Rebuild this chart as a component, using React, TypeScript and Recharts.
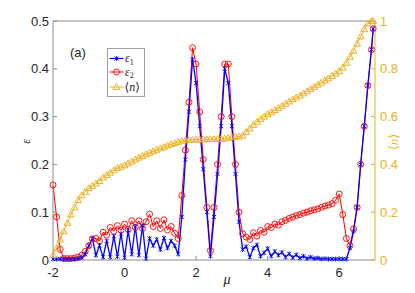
import { Line, LineChart, XAxis, YAxis } from "recharts";

const mu = [
  -2.0, -1.9, -1.8, -1.7, -1.6, -1.5, -1.4, -1.3, -1.2, -1.1,
  -1.0, -0.9, -0.8, -0.7, -0.6, -0.5, -0.4, -0.3, -0.2, -0.1,
  0.0, 0.1, 0.2, 0.3, 0.4, 0.5, 0.6, 0.7, 0.8, 0.9,
  1.0, 1.1, 1.2, 1.3, 1.4, 1.5, 1.6, 1.7, 1.8, 1.9,
  2.0, 2.1, 2.2, 2.3, 2.4, 2.5, 2.6, 2.7, 2.8, 2.9,
  3.0, 3.1, 3.2, 3.3, 3.4, 3.5, 3.6, 3.7, 3.8, 3.9,
  4.0, 4.1, 4.2, 4.3, 4.4, 4.5, 4.6, 4.7, 4.8, 4.9,
  5.0, 5.1, 5.2, 5.3, 5.4, 5.5, 5.6, 5.7, 5.8, 5.9,
  6.0, 6.1, 6.2, 6.3, 6.4, 6.5, 6.6, 6.7, 6.8, 6.9, 6.95,
];

// epsilon_1 (blue)
const eps1 = [
  0.002, 0.002, 0.002, 0.002, 0.002, 0.002, 0.002, 0.003, 0.005, 0.012,
  0.03, 0.045, 0.01, 0.03, 0.006, 0.04, 0.006, 0.05, 0.007, 0.055,
  0.005, 0.062, 0.012, 0.07, 0.01, 0.072, 0.003, 0.045, 0.03, 0.043,
  0.022, 0.046, 0.025, 0.04, 0.03, 0.012, 0.09, 0.21, 0.31, 0.42,
  0.37, 0.28, 0.19, 0.1, 0.008, 0.09, 0.18, 0.28, 0.4, 0.37,
  0.28, 0.18, 0.08, 0.022, 0.028, 0.006, 0.025, 0.032, 0.008, 0.015,
  0.024, 0.008, 0.018, 0.01, 0.016, 0.006, 0.013, 0.005, 0.011, 0.004,
  0.008, 0.003, 0.006, 0.003, 0.004, 0.002, 0.003, 0.002, 0.002, 0.002,
  0.002, 0.002, 0.002, 0.025, 0.06, 0.11, 0.2, 0.28, 0.365, 0.44, 0.484,
];

// epsilon_2 (red)
const eps2 = [
  0.157, 0.09, 0.022, 0.003, 0.003, 0.003, 0.004, 0.006, 0.01, 0.018,
  0.03, 0.044, 0.045, 0.04, 0.058, 0.052, 0.068, 0.06, 0.072, 0.062,
  0.075, 0.064, 0.082, 0.068, 0.082, 0.066, 0.08, 0.096, 0.07, 0.082,
  0.066, 0.084, 0.063, 0.07, 0.056, 0.045, 0.135, 0.23, 0.33, 0.444,
  0.41, 0.31, 0.21, 0.11, 0.02, 0.11, 0.2, 0.3, 0.41, 0.41,
  0.3, 0.2, 0.1, 0.055, 0.048, 0.043, 0.057, 0.05, 0.062, 0.058,
  0.07, 0.068, 0.075, 0.073, 0.08, 0.083, 0.087, 0.09, 0.093, 0.095,
  0.098, 0.1, 0.103, 0.105, 0.107, 0.11, 0.113, 0.115, 0.118, 0.125,
  0.138, 0.095, 0.045, 0.03, 0.065, 0.11, 0.2, 0.28, 0.365, 0.44, 0.484,
];

// <n> (right axis)
const density = [
  0.02, 0.05, 0.085, 0.12, 0.155, 0.19, 0.22, 0.25, 0.27, 0.285,
  0.3, 0.31, 0.32, 0.33, 0.345, 0.355, 0.365, 0.375, 0.385, 0.39,
  0.396, 0.404, 0.412, 0.42, 0.428, 0.435, 0.442, 0.449, 0.455, 0.461,
  0.467, 0.473, 0.479, 0.484, 0.489, 0.494, 0.499, 0.501, 0.502, 0.503,
  0.504, 0.504, 0.505, 0.505, 0.506, 0.506, 0.507, 0.507, 0.508, 0.511,
  0.514, 0.515, 0.517, 0.52, 0.535, 0.55, 0.565, 0.578, 0.59, 0.6,
  0.61, 0.618, 0.627, 0.636, 0.645, 0.654, 0.663, 0.672, 0.68, 0.688,
  0.697, 0.706, 0.715, 0.724, 0.733, 0.742, 0.751, 0.76, 0.77, 0.78,
  0.79, 0.805, 0.825, 0.85, 0.875, 0.905, 0.935, 0.965, 0.99, 1.0, 1.0,
];

const xTicks = [-2, 0, 2, 4, 6];
const leftTicks = [0, 0.1, 0.2, 0.3, 0.4, 0.5];
const rightTicks = [0, 0.2, 0.4, 0.6, 0.8, 1];

const BLUE = "#0000ff";
const RED = "#ff0000";
const GOLD = "#edb120";
const AXIS_GRAY = "#8c8c8c";
const SANS = "'Liberation Sans', Arial, sans-serif";
const SERIF = "'Liberation Serif', 'DejaVu Serif', serif";

const data = mu.map((m, i) => ({ mu: m, e1: eps1[i], e2: eps2[i], n: density[i] }));

const tickText = { fill: "#262626", fontSize: 13, fontFamily: SANS };

function starPath(cx: number, cy: number, s: number) {
  return `M${cx - s},${cy - s}L${cx + s},${cy + s}M${cx - s},${cy + s}L${cx + s},${cy - s}M${cx},${cy - s * 1.2}L${cx},${cy + s * 1.2}`;
}

function triPath(cx: number, cy: number) {
  return `M${cx},${cy - 3.4}L${cx + 3.4},${cy + 2.4}L${cx - 3.4},${cy + 2.4}Z`;
}

const StarDot = (p: any) =>
  p.cx == null ? <g key={p.index} /> : (
    <path key={p.index} d={starPath(p.cx, p.cy, 2)} stroke={BLUE} strokeWidth={0.9} fill="none" />
  );

const CircleDot = (p: any) =>
  p.cx == null ? <g key={p.index} /> : (
    <circle key={p.index} cx={p.cx} cy={p.cy} r={3} stroke={RED} strokeWidth={0.9} fill="none" />
  );

const TriDot = (p: any) =>
  p.cx == null ? <g key={p.index} /> : (
    <path key={p.index} d={triPath(p.cx, p.cy)} stroke={GOLD} strokeWidth={1} fill="none" />
  );

function Overlay() {
  return (
    <svg
      width={415}
      height={293}
      style={{ position: "absolute", left: 0, top: 0, pointerEvents: "none" }}
    >
      <text x={70} y={57} fontFamily={SANS} fontSize={13} fill="#262626">(a)</text>

      <rect x={107.5} y={48.5} width={37} height={48} fill="#fff" stroke="#a0a0a0" strokeWidth={1} />
      <line x1={109.5} x2={123.5} y1={58.5} y2={58.5} stroke={BLUE} strokeWidth={1.2} />
      <path d={starPath(116.5, 58.5, 2)} stroke={BLUE} strokeWidth={0.9} fill="none" />
      <text x={125} y={62} fontFamily={SERIF} fontStyle="italic" fontSize={12} fill="#262626">
        ε<tspan fontStyle="normal" fontSize={8} dy={2.5}>1</tspan>
      </text>
      <line x1={109.5} x2={123.5} y1={72} y2={72} stroke={RED} strokeWidth={1} />
      <circle cx={116.5} cy={72} r={3} stroke={RED} strokeWidth={0.9} fill="none" />
      <text x={125} y={75.5} fontFamily={SERIF} fontStyle="italic" fontSize={12} fill="#262626">
        ε<tspan fontStyle="normal" fontSize={8} dy={2.5}>2</tspan>
      </text>
      <line x1={109.5} x2={123.5} y1={87} y2={87} stroke={GOLD} strokeWidth={1} />
      <path d={triPath(116.5, 87)} stroke={GOLD} strokeWidth={1} fill="none" />
      <text x={124.5} y={91} fontFamily={SERIF} fontSize={12} fill="#262626">
        ⟨<tspan fontStyle="italic">n</tspan>⟩
      </text>

      <text
        transform="translate(26,141.5) rotate(-90)"
        textAnchor="middle"
        dominantBaseline="central"
        fontFamily={SERIF}
        fontStyle="italic"
        fontSize={12}
        fill="#262626"
      >
        ε
      </text>
      <text x={227} y={284} textAnchor="middle" fontFamily={SERIF} fontStyle="italic" fontSize={14} fill="#262626">
        μ
      </text>
      <text
        transform="translate(393,142) rotate(-90)"
        textAnchor="middle"
        dominantBaseline="central"
        fontFamily={SERIF}
        fontSize={13}
        fill={GOLD}
      >
        ⟨<tspan fontStyle="italic">n</tspan>⟩
      </text>
    </svg>
  );
}

export default function App() {
  return (
    <div style={{ position: "absolute", left: 0, top: 0, width: 415, height: 293, background: "#fff" }}>
      <LineChart width={415} height={293} data={data} margin={{ top: 20, right: 10, bottom: 8, left: 13 }}>
        <XAxis
          dataKey="mu"
          type="number"
          domain={[-2, 7]}
          ticks={xTicks}
          stroke={AXIS_GRAY}
          tickSize={-4}
          tickMargin={12}
          tick={tickText}
          height={25}
        />
        <XAxis
          xAxisId="top"
          orientation="top"
          dataKey="mu"
          type="number"
          domain={[-2, 7]}
          ticks={xTicks}
          stroke={AXIS_GRAY}
          tickSize={-4}
          tick={false}
          height={1}
        />
        <YAxis
          yAxisId="left"
          domain={[0, 0.5]}
          ticks={leftTicks}
          stroke={AXIS_GRAY}
          tickSize={-4}
          tickMargin={8}
          tick={tickText}
          width={40}
        />
        <YAxis
          yAxisId="right"
          orientation="right"
          domain={[0, 1]}
          ticks={rightTicks}
          stroke={GOLD}
          tickSize={-4}
          tickMargin={9}
          tick={{ ...tickText, fill: GOLD }}
          width={30}
        />
        <Line
          yAxisId="left"
          type="linear"
          dataKey="e2"
          stroke={RED}
          strokeWidth={1}
          dot={CircleDot}
          activeDot={false}
          isAnimationActive={false}
        />
        <Line
          yAxisId="left"
          type="linear"
          dataKey="e1"
          stroke={BLUE}
          strokeWidth={1.3}
          dot={StarDot}
          activeDot={false}
          isAnimationActive={false}
        />
        <Line
          yAxisId="right"
          type="linear"
          dataKey="n"
          stroke={GOLD}
          strokeWidth={1}
          dot={TriDot}
          activeDot={false}
          isAnimationActive={false}
        />
      </LineChart>
      <Overlay />
    </div>
  );
}
